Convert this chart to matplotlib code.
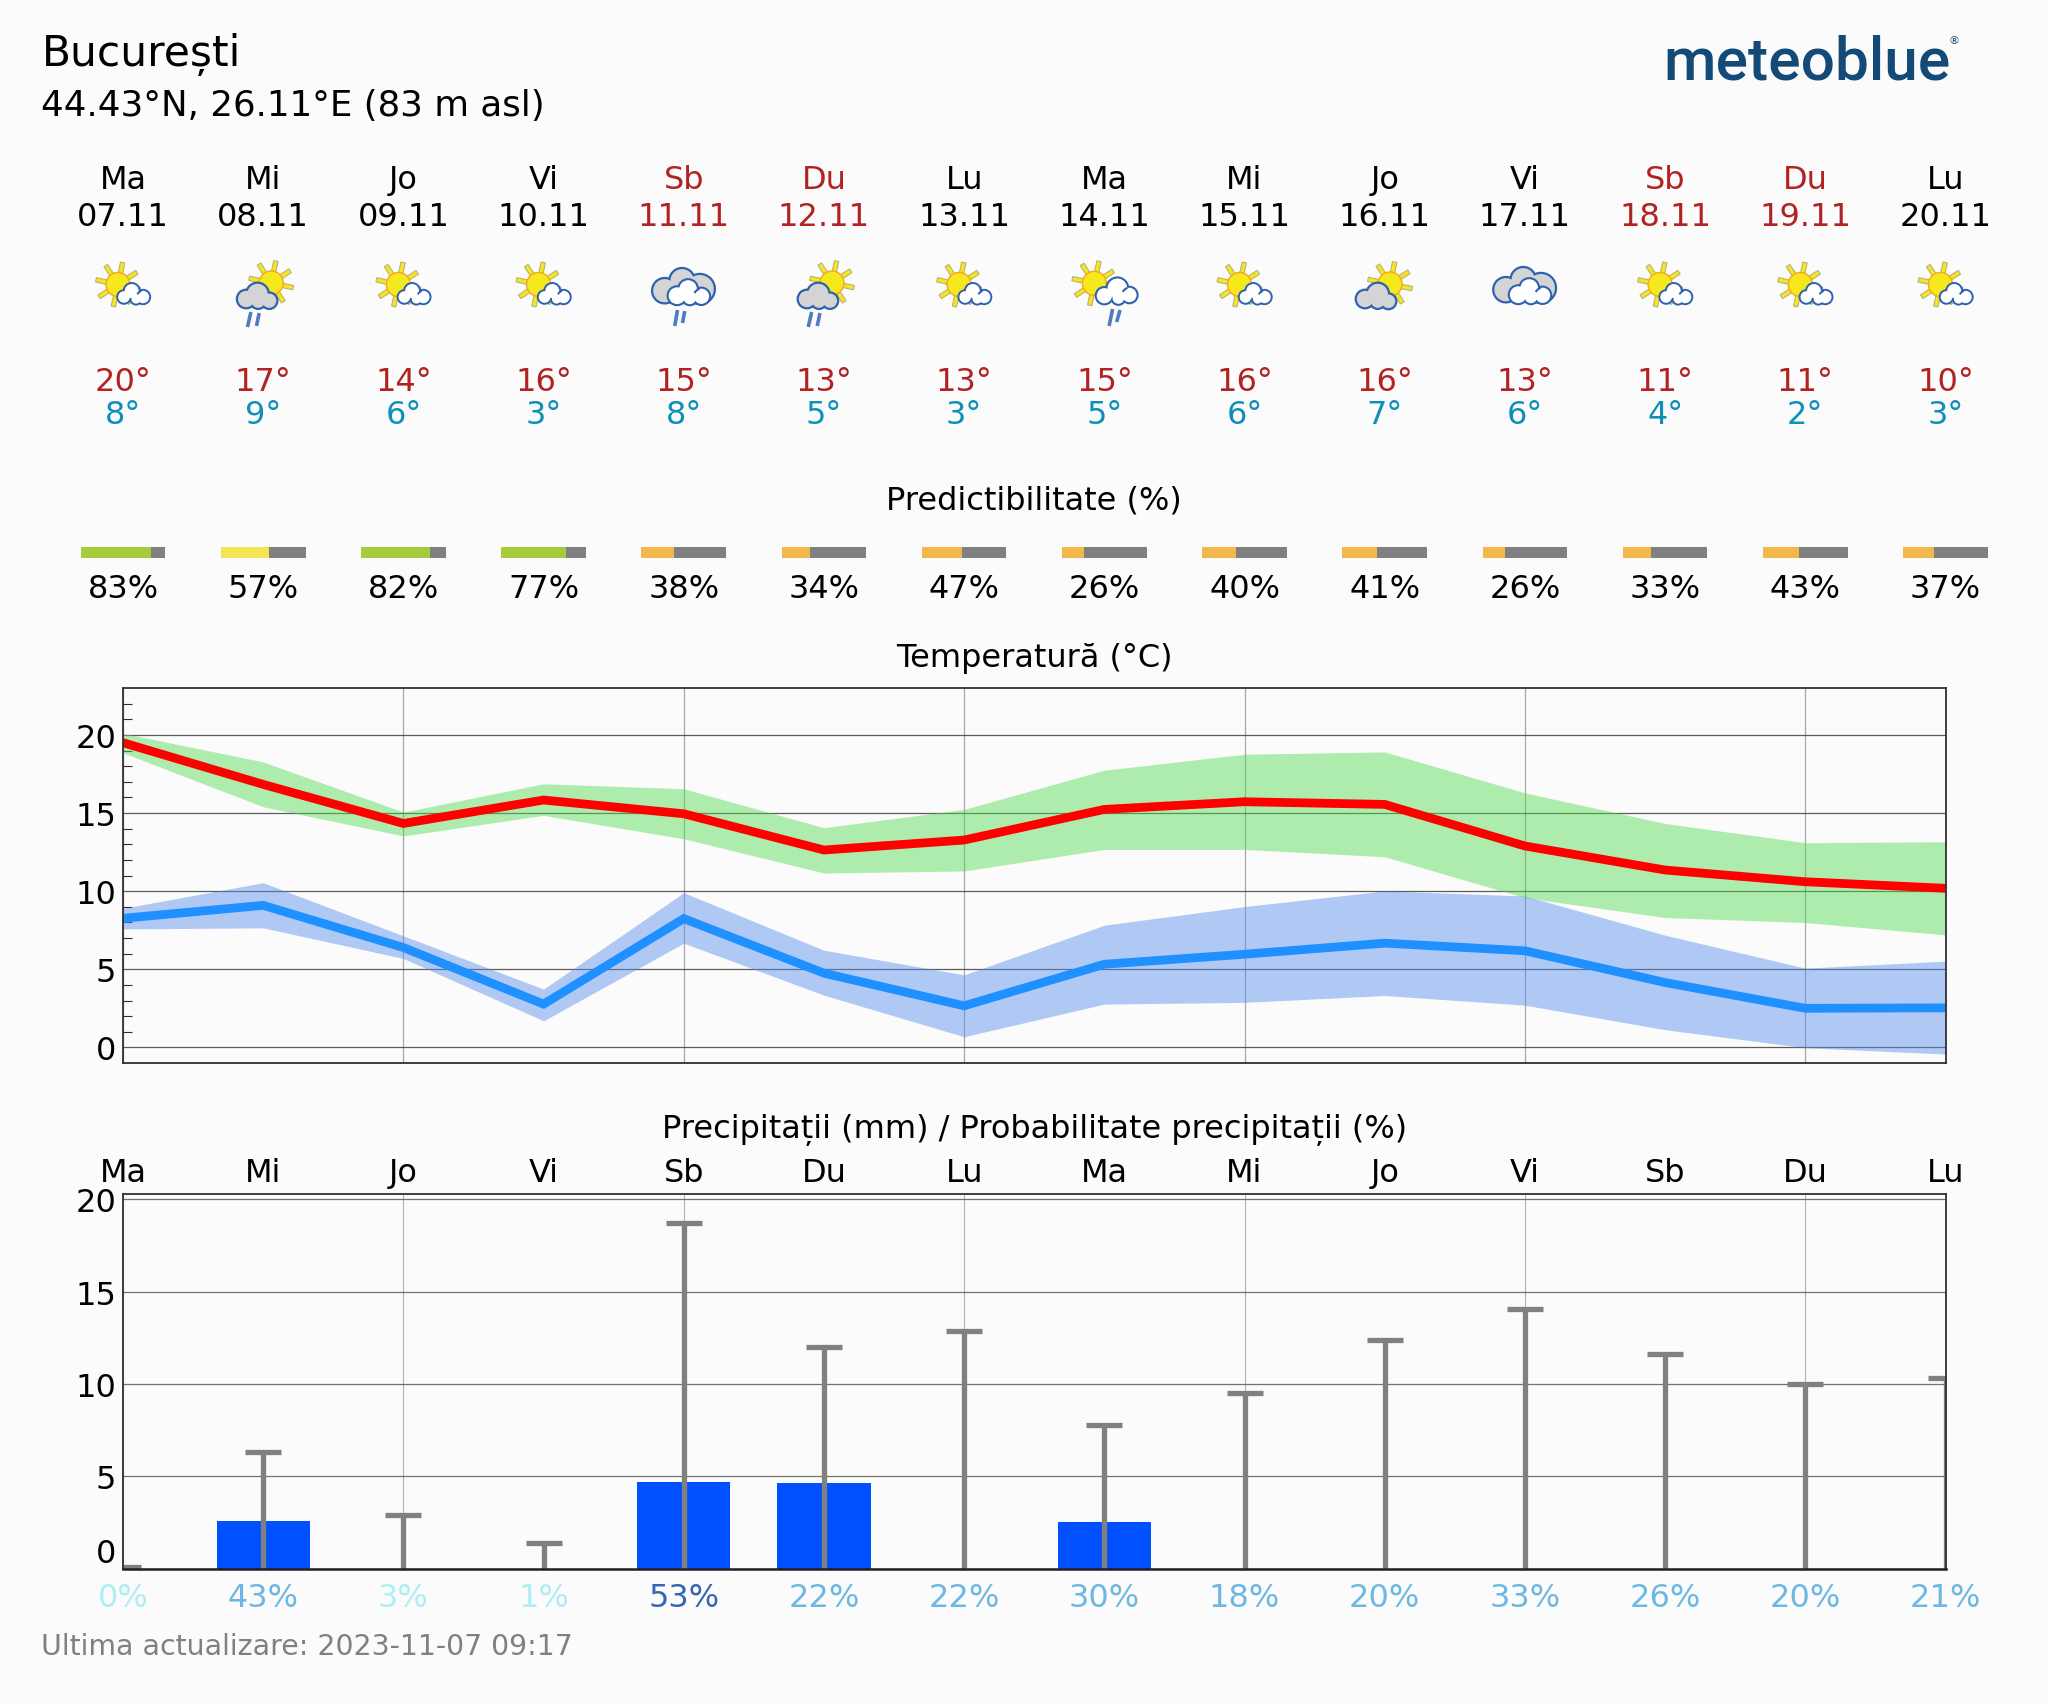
import numpy as np
import matplotlib
matplotlib.use("Agg")
import matplotlib.pyplot as plt
from matplotlib.patches import Circle, Polygon, Arc

# ---------- data ----------
days = ["Ma", "Mi", "Jo", "Vi", "Sb", "Du", "Lu", "Ma", "Mi", "Jo", "Vi", "Sb", "Du", "Lu"]
dates = ["07.11", "08.11", "09.11", "10.11", "11.11", "12.11", "13.11",
         "14.11", "15.11", "16.11", "17.11", "18.11", "19.11", "20.11"]
icons = ["A", "B", "A", "A", "C", "B", "A", "D", "A", "E", "F", "A", "A", "A"]
high_labels = [20, 17, 14, 16, 15, 13, 13, 15, 16, 16, 13, 11, 11, 10]
low_labels = [8, 9, 6, 3, 8, 5, 3, 5, 6, 7, 6, 4, 2, 3]
predictability = [83, 57, 82, 77, 38, 34, 47, 26, 40, 41, 26, 33, 43, 37]

t_max = [19.5, 16.83, 14.33, 15.83, 14.95, 12.63, 13.27, 15.23, 15.72, 15.55, 12.89, 11.35, 10.6, 10.18]
t_max_hi = [20.1, 18.27, 15.06, 16.87, 16.55, 14.06, 15.23, 17.74, 18.76, 18.91, 16.29, 14.33, 13.1, 13.16]
t_max_lo = [18.85, 15.4, 13.53, 14.85, 13.35, 11.16, 11.29, 12.67, 12.67, 12.2, 9.58, 8.31, 7.99, 7.2]
t_min = [8.26, 9.09, 6.39, 2.77, 8.24, 4.75, 2.66, 5.32, 5.96, 6.67, 6.18, 4.15, 2.5, 2.53]
t_min_hi = [8.9, 10.54, 7.14, 3.73, 9.9, 6.22, 4.64, 7.82, 9.01, 10.01, 9.69, 7.18, 5.07, 5.52]
t_min_lo = [7.58, 7.65, 5.69, 1.7, 6.67, 3.34, 0.68, 2.77, 2.88, 3.32, 2.7, 1.13, -0.02, -0.43]

precip = [0, 2.6, 0, 0, 4.7, 4.63, 0, 2.5, 0, 0, 0, 0, 0, 0]
precip_max = [0.1, 6.3, 2.9, 1.4, 18.7, 12.0, 12.85, 7.75, 9.5, 12.35, 14.05, 11.6, 10.0, 10.3]
precip_prob = [0, 43, 3, 1, 53, 22, 22, 30, 18, 20, 33, 26, 20, 21]

# ---------- layout ----------
W, H = 2048, 1706
BG = "#FBFBFB"
X0, X1 = 123.0, 1945.5
plt.rcParams["font.family"] = ["DejaVu Sans"]
FS = 23

fig = plt.figure(figsize=(W / 100, H / 100), dpi=100, facecolor=BG)
x = np.arange(len(days))


def px_axes(left, top, right, bottom, **kw):
    return fig.add_axes([left / W, 1 - bottom / H, (right - left) / W, (bottom - top) / H], **kw)


def dx(i):
    return X0 + i * (X1 - X0) / 13


ov = px_axes(0, 0, W, H)
ov.set_xlim(0, W)
ov.set_ylim(H, 0)
ov.axis("off")
ov.set_zorder(5)


def txt(px, py, s, size=FS, color="black", ha="center", **kw):
    ov.text(px, py, s, fontsize=size, color=color, ha=ha, va="baseline", **kw)


# ---------- header ----------
txt(42, 66, "București", size=30.5, ha="left")
txt(41, 116, "44.43°N, 26.11°E (83 m asl)", size=25.7, ha="left")
txt(1663, 79, "meteoblue", size=43.5, color="#134A78", ha="left",
    family="Roboto", weight="medium")
txt(1954, 44, "®", size=8, color="#134A78")

RED = "#B22222"
TEAL = "#0E8FB8"
for i in x:
    wk = days[i] in ("Sb", "Du")
    txt(dx(i), 189, days[i], color=RED if wk else "black")
    txt(dx(i), 226, dates[i], color=RED if wk else "black")
    txt(dx(i), 391, f"{high_labels[i]}°", color=RED)
    txt(dx(i), 424, f"{low_labels[i]}°", color=TEAL)

# ---------- icons ----------
EDGE = "#2E61AE"
GREY = "#D4D4D4"


def sun(cx, cy, r=12.0, ray=22.5):
    for a in np.deg2rad(np.arange(33, 393, 45)):
        u = np.array([np.cos(a), -np.sin(a)])
        n = np.array([-u[1], u[0]])
        c = np.array([cx, cy])
        pts = [c + u * (r - 1) + n * 2.2, c + u * ray + n * 2.2, c + u * ray - n * 2.2, c + u * (r - 1) - n * 2.2]
        ov.add_patch(Polygon(pts, closed=True, fc="#F5E61E", ec="#B9B27A", lw=0.8, zorder=2))
    ov.add_patch(Circle((cx, cy), r, fc="#F5E81C", ec="#F5A623", lw=1.0, zorder=3))


def cloud(cx, lobes, fill, z, lw=3.2, curl=False):
    for (ox, oy, r) in lobes:
        ov.add_patch(Circle((cx + ox, oy), r, fc=EDGE, ec=EDGE, lw=lw, zorder=z))
    for (ox, oy, r) in lobes:
        ov.add_patch(Circle((cx + ox, oy), r, fc=fill, ec="none", zorder=z + 0.1))
    if curl:
        ox, oy, r = lobes[-1]
        ov.add_patch(Arc((cx + ox, oy), 2 * r, 2 * r, theta1=205, theta2=255,
                         ec=EDGE, lw=lw * 0.5, zorder=z + 0.2))


def rain(cx, streaks):
    for (xa, ya, xb, yb) in streaks:
        ov.plot([cx + xa, cx + xb], [ya, yb], color="#4F7DC0", lw=2.6, solid_capstyle="butt", zorder=6)


def icon(kind, cx):
    if kind == "A":
        sun(cx - 5, 285.5)
        cloud(cx, [(1, 298, 5.8), (8.7, 292, 7.0), (13, 300, 4.6), (20, 298, 6.2)], "white", 4, 2.8, True)
    elif kind == "B":
        sun(cx + 8, 284)
        cloud(cx, [(-17, 300, 8.2), (-5.7, 295, 10.2), (-5, 302, 6.8), (6, 301.7, 7.1)], GREY, 4, 3.2)
        rain(cx, [(-12.3, 313, -15.7, 328), (-4, 314, -6.7, 327)])
    elif kind == "C" or kind == "F":
        off = 0 if kind == "C" else -1
        cloud(cx, [(-19, 291.7 + off, 11.6), (-1.7, 281.7 + off, 11.6), (16, 290 + off, 14)], GREY, 3, 3.2)
        cloud(cx, [(-6.7, 296.7 + off, 8.4), (4.3, 290 + off, 8.8), (6, 299 + off, 6.2), (17.7, 297.3 + off, 7.6)],
              "white", 4, 3.0, True)
        if kind == "C":
            rain(cx, [(-6.3, 311, -9, 327), (1, 312, -1.3, 324)])
    elif kind == "D":
        sun(cx - 10, 284.3)
        cloud(cx, [(0, 296.7, 7.6), (13, 289.3, 9.8), (14, 299, 5.8), (25, 296, 7.2)], "white", 4, 3.0, True)
        rain(cx, [(8.3, 310, 4.7, 327), (15.7, 311, 12.3, 323)])
    elif kind == "E":
        sun(cx + 5.3, 285)
        cloud(cx, [(-19.7, 300, 8.2), (-7, 295, 10.2), (-7, 302, 6.8), (3.7, 302.3, 6.8)], GREY, 4, 3.2)


for i in x:
    icon(icons[i], dx(i))

# ---------- predictability ----------
txt(W * 0.505, 509, "Predictibilitate (%)")
ax_p = px_axes(X0, 548, X1, 559.3)
ax_p.set_xlim(0, 13)
ax_p.set_ylim(0, 1)
ax_p.axis("off")
BAR_W = 0.604


def pcolor(v):
    if v >= 60:
        return "#A6CC3E"
    if v >= 50:
        return "#F4E452"
    return "#F2B84B"


for i, v in enumerate(predictability):
    left = i - BAR_W / 2
    ax_p.barh(0.5, BAR_W * v / 100, left=left, height=1, color=pcolor(v), clip_on=False)
    ax_p.barh(0.5, BAR_W * (100 - v) / 100, left=left + BAR_W * v / 100, height=1, color="#808080", clip_on=False)
    txt(dx(i), 598, f"{v}%")

# ---------- temperature ----------
SPINE = "#303030"
txt(W * 0.505, 667, "Temperatură (°C)")
ax_t = px_axes(X0, 689, X1, 1064, facecolor="none")
ax_t.set_xlim(0, 13)
ax_t.set_ylim(-1, 23)
ax_t.set_axisbelow(True)
ax_t.fill_between(x, t_min_lo, t_min_hi, color="#568CED", alpha=0.45, lw=0, zorder=1)
ax_t.fill_between(x, t_max_lo, t_max_hi, color="#51DB51", alpha=0.45, lw=0, zorder=1.1)
ax_t.plot(x, t_max, color="#FF0000", lw=6.3, solid_joinstyle="miter", zorder=3)
ax_t.plot(x, t_min, color="#1E90FF", lw=6.3, solid_joinstyle="miter", zorder=3)
ax_t.set_yticks([0, 5, 10, 15, 20])
ax_t.set_yticks([v for v in range(0, 23) if v % 5], minor=True)
ax_t.set_xticks(x[::2])
ax_t.set_xticklabels([])
ax_t.tick_params(axis="y", which="major", length=0, labelsize=FS, pad=5)
ax_t.tick_params(axis="y", which="minor", direction="in", length=6.5, width=0.8, color="#303030")
ax_t.tick_params(axis="x", length=0)
ax_t.grid(axis="y", color="#404040", lw=0.9, alpha=0.85, zorder=0.5)
ax_t.grid(axis="x", color="#707070", lw=0.9, alpha=0.6, zorder=0.5)
for s in ax_t.spines.values():
    s.set_color(SPINE)
    s.set_linewidth(1.3)
    s.set_zorder(6)

# ---------- precipitation ----------
txt(W * 0.505, 1138, "Precipitații (mm) / Probabilitate precipitații (%)")
for i in x:
    txt(dx(i), 1182, days[i])
ax_r = px_axes(X0, 1194.6, X1, 1569.6, facecolor="none")
ax_r.set_xlim(0, 13)
ax_r.set_ylim(0, 20.3)
ax_r.set_axisbelow(True)
ax_r.bar(x, precip, width=0.665, color="#0050FF", zorder=2)
ax_r.vlines(x, 0, precip_max, color="#808080", lw=3.8, zorder=3)
ax_r.plot(x, precip_max, ls="none", marker="_", ms=26, mew=3.8, color="#808080", zorder=3)
ax_r.set_yticks([0, 5, 10, 15, 20])
ax_r.set_xticks(x[::2])
ax_r.set_xticklabels([])
ax_r.tick_params(axis="y", length=0, labelsize=FS, pad=5)
ax_r.tick_params(axis="x", length=0)
ax_r.get_yticklabels()[0].set_verticalalignment("bottom")
ax_r.grid(axis="y", color="#505050", lw=0.9, alpha=0.8, zorder=0.5)
ax_r.grid(axis="x", color="#808080", lw=0.8, alpha=0.6, zorder=0.5)
for s in ax_r.spines.values():
    s.set_color(SPINE)
    s.set_linewidth(1.3)
    s.set_zorder(6)
ax_r.spines["bottom"].set_color("#202020")
ax_r.spines["bottom"].set_linewidth(1.8)


def prob_color(v):
    if v >= 50:
        return "#3366B5"
    if v >= 10:
        return "#6DB8E3"
    return "#AEEEF5"


for i, v in enumerate(precip_prob):
    txt(dx(i), 1607, f"{v}%", color=prob_color(v))

txt(41, 1655, "Ultima actualizare: 2023-11-07 09:17", size=20.45, color="#808080", ha="left")

fig.savefig("out.png", dpi=100, facecolor=BG)
